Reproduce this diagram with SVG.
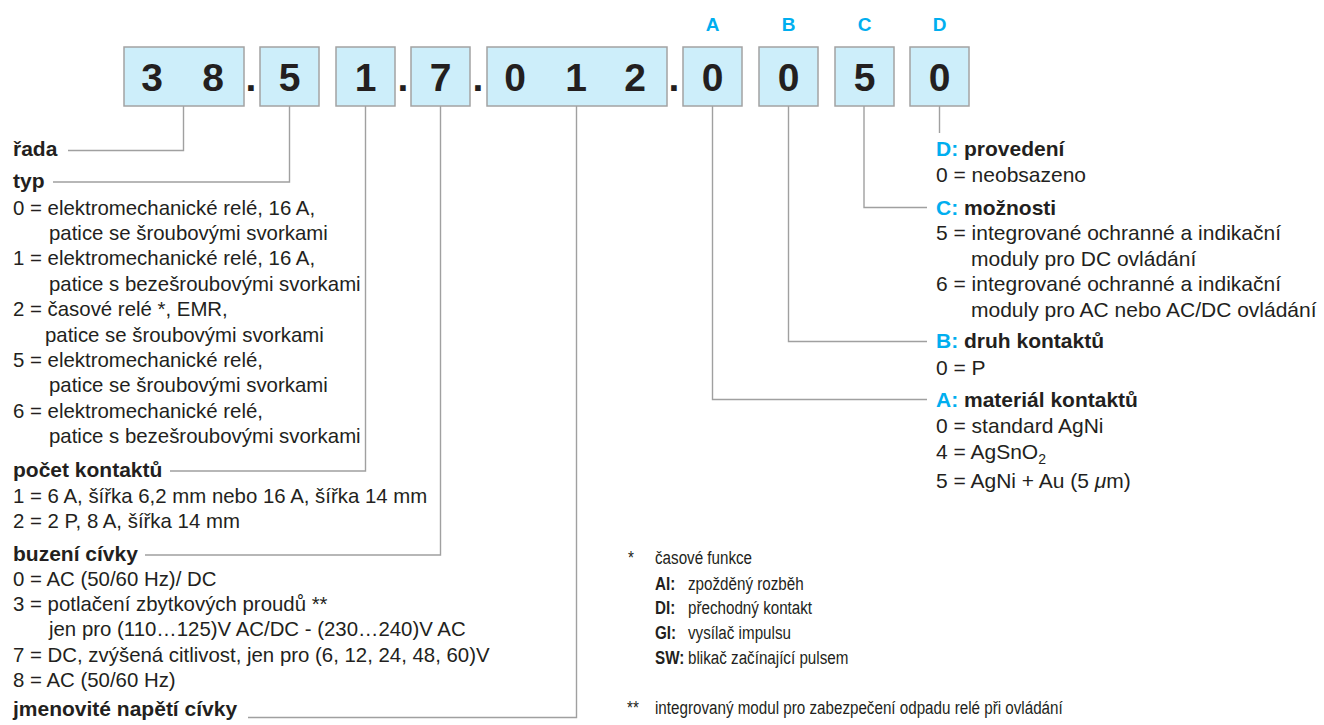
<svg xmlns="http://www.w3.org/2000/svg" width="1324" height="725" viewBox="0 0 1324 725">
<style>
text{font-family:"Liberation Sans",Arial,Helvetica,sans-serif;fill:#231f20}
.box{fill:#cdeefa;stroke:#a3a3a3;stroke-width:1.5}
.dig{font-size:39px;font-weight:bold;text-anchor:middle}
.dot{font-size:39px;font-weight:bold;text-anchor:middle}
.abc{font-size:19px;font-weight:bold;text-anchor:middle;fill:#00aeef}
.t{font-size:20.4px}
.r{font-size:21px}
.h{font-size:21px;font-weight:bold}
.blue{fill:#00aeef}
.f{font-size:19px}
.fb{font-size:19px;font-weight:bold}
.con{fill:none;stroke:#a0a0a0;stroke-width:1.4}
</style>
<rect width="1324" height="725" fill="#ffffff"/>

<g id="connectors" class="con">
<path d="M183.5,106 V150.5 H68"/>
<path d="M289.5,106 V182 H53"/>
<path d="M365.5,106 V471 H170"/>
<path d="M440.5,106 V555 H145"/>
<path d="M576.5,106 V717.5 H248"/>
<path d="M712.5,106 V399.5 H927"/>
<path d="M788.5,106 V341.5 H927"/>
<path d="M864,106 V207.5 H927"/>
<path d="M939.5,106 V133"/>
</g>

<g id="node-serie"><rect class="box" x="124" y="47" width="120" height="59"/><text class="dig" x="152" y="91">3</text><text class="dig" x="213" y="91">8</text></g>
<text class="dot" x="251" y="91">.</text>
<g id="node-typ"><rect class="box" x="260" y="47" width="59" height="59"/><text class="dig" x="289.5" y="91">5</text></g>
<g id="node-kontakty"><rect class="box" x="336" y="47" width="59" height="59"/><text class="dig" x="365.5" y="91">1</text></g>
<text class="dot" x="403" y="91">.</text>
<g id="node-buzeni"><rect class="box" x="411" y="47" width="59" height="59"/><text class="dig" x="440.5" y="91">7</text></g>
<text class="dot" x="478" y="91">.</text>
<g id="node-napeti"><rect class="box" x="487" y="47" width="180" height="59"/><text class="dig" x="515" y="91">0</text><text class="dig" x="576" y="91">1</text><text class="dig" x="635" y="91">2</text></g>
<text class="dot" x="674" y="91">.</text>
<g id="node-A"><text class="abc" x="712.5" y="31">A</text><rect class="box" x="683" y="47" width="59" height="59"/><text class="dig" x="712.5" y="91">0</text></g>
<g id="node-B"><text class="abc" x="788.5" y="31">B</text><rect class="box" x="759" y="47" width="59" height="59"/><text class="dig" x="788.5" y="91">0</text></g>
<g id="node-C"><text class="abc" x="864.5" y="31">C</text><rect class="box" x="835" y="47" width="59" height="59"/><text class="dig" x="864.5" y="91">5</text></g>
<g id="node-D"><text class="abc" x="939.5" y="31">D</text><rect class="box" x="910" y="47" width="59" height="59"/><text class="dig" x="939.5" y="91">0</text></g>

<g id="legend-rada"><text class="h" x="13" y="156">řada</text></g>
<g id="legend-typ">
<text class="h" x="13" y="188">typ</text>
<text class="t" x="13" y="214.5">0 = elektromechanické relé, 16 A,</text>
<text class="t" x="49" y="240">patice se šroubovými svorkami</text>
<text class="t" x="13" y="265.3">1 = elektromechanické relé, 16 A,</text>
<text class="t" x="49" y="290.7">patice s bezešroubovými svorkami</text>
<text class="t" x="13" y="316">2 = časové relé *, EMR,</text>
<text class="t" x="45" y="341.5">patice se šroubovými svorkami</text>
<text class="t" x="13" y="367">5 = elektromechanické relé,</text>
<text class="t" x="49" y="392.3">patice se šroubovými svorkami</text>
<text class="t" x="13" y="417.7">6 = elektromechanické relé,</text>
<text class="t" x="49" y="443">patice s bezešroubovými svorkami</text>
</g>
<g id="legend-kontakty">
<text class="h" x="13" y="476.5">počet kontaktů</text>
<text class="t" x="13" y="502.5">1 = 6 A, šířka 6,2 mm nebo 16 A, šířka 14 mm</text>
<text class="t" x="13" y="528">2 = 2 P, 8 A, šířka 14 mm</text>
</g>
<g id="legend-buzeni">
<text class="h" x="13" y="560.5">buzení cívky</text>
<text class="t" x="13" y="585.5">0 = AC (50/60 Hz)/ DC</text>
<text class="t" x="13" y="610.5">3 = potlačení zbytkových proudů **</text>
<text class="t" x="49" y="636">jen pro (110…125)V AC/DC - (230…240)V AC</text>
<text class="t" x="13" y="661.5">7 = DC, zvýšená citlivost, jen pro (6, 12, 24, 48, 60)V</text>
<text class="t" x="13" y="687">8 = AC (50/60 Hz)</text>
</g>
<g id="legend-napeti"><text class="h" x="13" y="715.5">jmenovité napětí cívky</text></g>

<g id="legend-D">
<text class="h" x="936" y="156"><tspan class="blue">D:</tspan> provedení</text>
<text class="r" x="936" y="181.5">0 = neobsazeno</text>
</g>
<g id="legend-C">
<text class="h" x="936" y="215"><tspan class="blue">C:</tspan> možnosti</text>
<text class="r" x="936" y="240">5 = integrované ochranné a indikační</text>
<text class="r" x="971" y="265.5">moduly pro DC ovládání</text>
<text class="r" x="936" y="291">6 = integrované ochranné a indikační</text>
<text class="r" x="971" y="316.5">moduly pro AC nebo AC/DC ovládání</text>
</g>
<g id="legend-B">
<text class="h" x="936" y="348"><tspan class="blue">B:</tspan> druh kontaktů</text>
<text class="r" x="936" y="374.5">0 = P</text>
</g>
<g id="legend-A">
<text class="h" x="936" y="407"><tspan class="blue">A:</tspan> materiál kontaktů</text>
<text class="r" x="936" y="433">0 = standard AgNi</text>
<text class="r" x="936" y="459">4 = AgSnO<tspan font-size="14" dy="5">2</tspan></text>
<text class="r" x="936" y="488">5 = AgNi + Au (5 <tspan font-style="italic">μ</tspan>m)</text>
</g>

<g id="footnotes">
<text class="f" transform="translate(628 563.5) scale(0.8 1)">*</text>
<text class="f" transform="translate(655 563.5) scale(0.8 1)">časové funkce</text>
<text class="fb" transform="translate(655 589.5) scale(0.8 1)">AI:</text>
<text class="f" transform="translate(688 589.5) scale(0.8 1)">zpožděný rozběh</text>
<text class="fb" transform="translate(655 614) scale(0.8 1)">DI:</text>
<text class="f" transform="translate(688 614) scale(0.8 1)">přechodný kontakt</text>
<text class="fb" transform="translate(655 639) scale(0.8 1)">GI:</text>
<text class="f" transform="translate(688 639) scale(0.8 1)">vysílač impulsu</text>
<text class="fb" transform="translate(655 664) scale(0.8 1)">SW:</text>
<text class="f" transform="translate(688 664) scale(0.8 1)">blikač začínající pulsem</text>
<text class="f" transform="translate(627 714) scale(0.8 1)">**</text>
<text class="f" transform="translate(655 714) scale(0.8 1)">integrovaný modul pro zabezpečení odpadu relé při ovládání</text>
</g>
</svg>
